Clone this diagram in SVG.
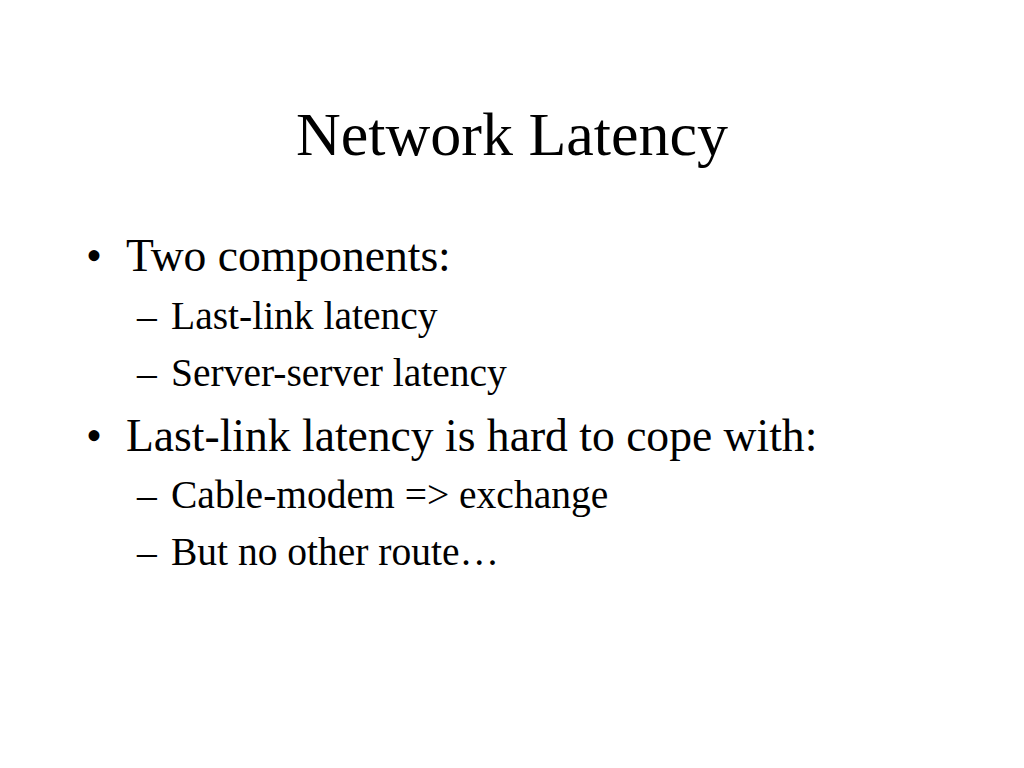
<svg xmlns="http://www.w3.org/2000/svg" width="1024" height="768" viewBox="0 0 1024 768">
<style>
text{font-family:"Liberation Serif","Times New Roman",serif;fill:#000}
.t{font-size:62px}
.b1{font-size:45.6px}
.b2{font-size:39.5px}
</style>
<rect width="1024" height="768" fill="#fff"/>
<g id="title"><text class="t" x="512" y="155" text-anchor="middle">Network Latency</text></g>
<g id="body">
<text class="b1" x="86" y="271">•</text><text class="b1" x="126" y="271">Two components:</text>
<text class="b2" x="137" y="329">–</text><text class="b2" x="171" y="329">Last-link latency</text>
<text class="b2" x="137" y="386">–</text><text class="b2" x="171" y="386">Server-server latency</text>
<text class="b1" x="86" y="451">•</text><text class="b1" x="126" y="451">Last-link latency is hard to cope with:</text>
<text class="b2" x="137" y="508">–</text><text class="b2" x="171" y="508">Cable-modem =&gt; exchange</text>
<text class="b2" x="137" y="565">–</text><text class="b2" x="171" y="565">But no other route…</text>
</g>
</svg>
